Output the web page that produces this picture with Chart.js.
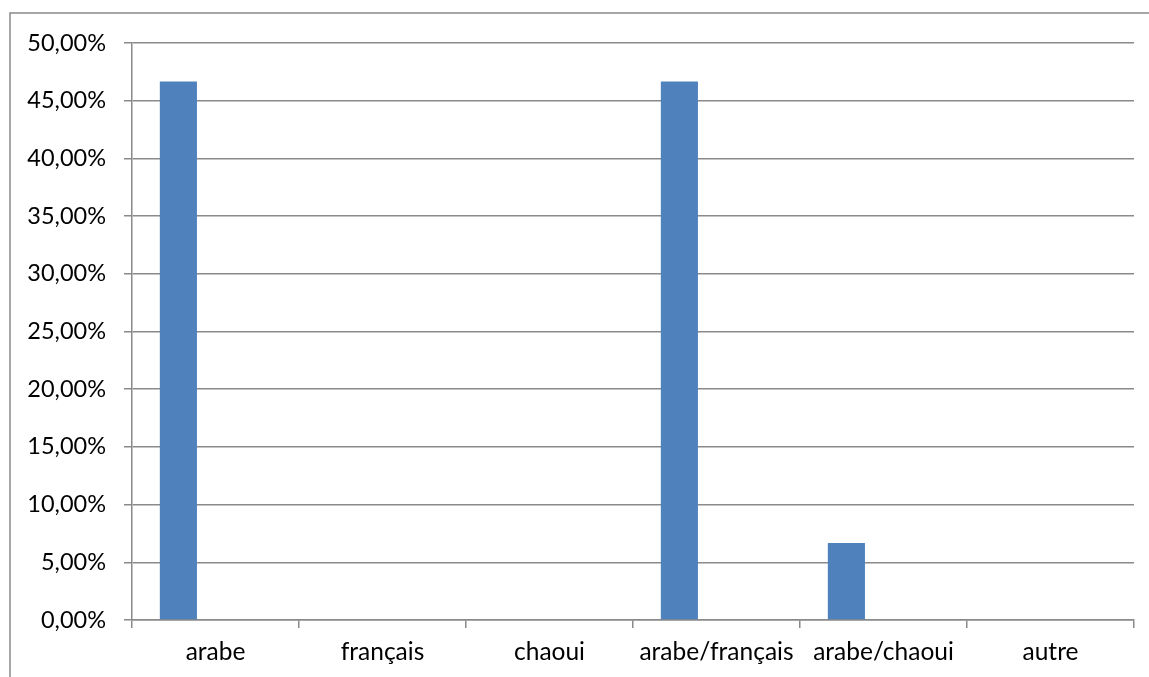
<!DOCTYPE html>
<html>
<head>
<meta charset="utf-8">
<script src="https://cdn.jsdelivr.net/npm/chart.js@4/dist/chart.umd.min.js"></script>
<style>
html,body{margin:0;padding:0;background:#fff;}
#wrap{width:1149px;height:677px;position:relative;}
</style>
</head>
<body>
<div id="wrap"><canvas id="c" width="1149" height="677"></canvas></div>
<script>
const categories = ["arabe", "français", "chaoui", "arabe/français", "arabe/chaoui", "autre"];
const series1 = [46.67, 0, 0, 46.67, 6.67, 0];
const series2 = [null, null, null, null, null, null];
const series3 = [null, null, null, null, null, null];
const yTicks = [0, 5, 10, 15, 20, 25, 30, 35, 40, 45, 50];

const frame = {
  id: 'frame',
  beforeDraw(chart) {
    const ctx = chart.ctx;
    ctx.save();
    ctx.strokeStyle = '#8a8a8a';
    ctx.lineWidth = 1.5;
    ctx.beginPath();
    ctx.moveTo(10, 677);
    ctx.lineTo(10, 13);
    ctx.lineTo(1149, 13);
    ctx.stroke();
    ctx.restore();
  }
};

const yFont = { family: 'Lato, "Open Sans", sans-serif', size: 23.5 };
const xFont = { family: 'Lato, "Open Sans", sans-serif', size: 24.5 };

new Chart(document.getElementById('c'), {
  type: 'bar',
  data: {
    labels: categories,
    datasets: [
      { data: series1, backgroundColor: '#4F81BD', borderWidth: 0 },
      { data: series2, backgroundColor: '#C0504D', borderWidth: 0 },
      { data: series3, backgroundColor: '#9BBB59', borderWidth: 0 }
    ]
  },
  options: {
    responsive: false,
    animation: false,
    layout: { padding: { left: 0, top: 43, right: 15, bottom: 0 } },
    datasets: { bar: { categoryPercentage: 3 / 4.5, barPercentage: 1 } },
    plugins: { legend: { display: false }, tooltip: { enabled: false } },
    scales: {
      x: {
        grid: { offset: true, drawOnChartArea: false, drawTicks: true, tickLength: 8, color: '#8a8a8a', lineWidth: 1.5 },
        border: { color: '#8a8a8a', width: 1.5 },
        ticks: { color: '#000', font: xFont, padding: 9, maxRotation: 0, autoSkip: false },
        afterFit(s) { s.height = 57; }
      },
      y: {
        min: 0, max: 50,
        afterBuildTicks(s) { s.ticks = yTicks.map(v => ({ value: v })); },
        grid: { color: '#8a8a8a', lineWidth: 1.5, tickLength: 8 },
        border: { color: '#8a8a8a', width: 1.5 },
        ticks: {
          color: '#000', font: yFont, padding: 18,
          callback: v => v.toFixed(2).replace('.', ',') + '%'
        },
        afterFit(s) { s.width = 132; }
      }
    }
  },
  plugins: [frame]
});
</script>
</body>
</html>
